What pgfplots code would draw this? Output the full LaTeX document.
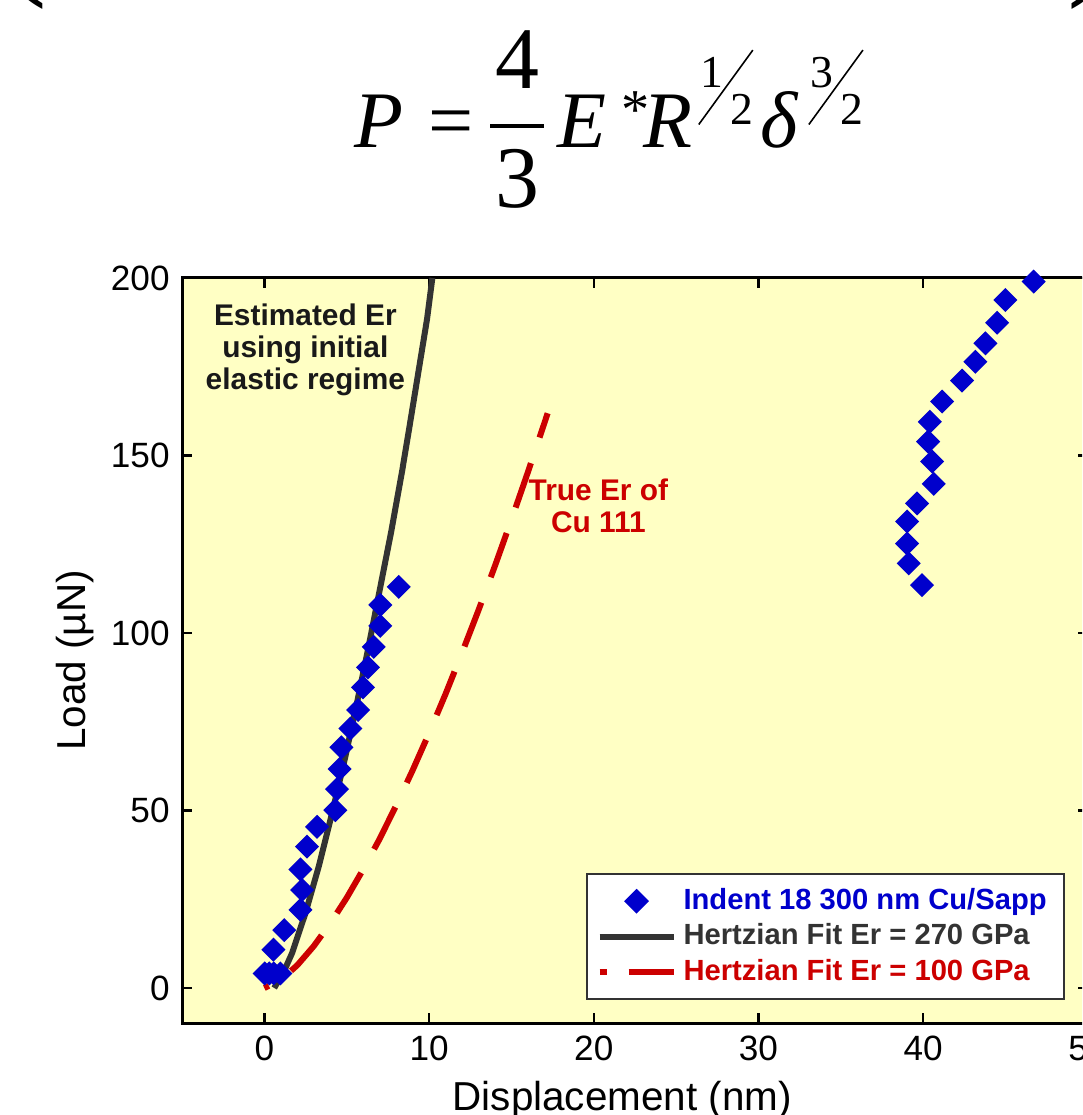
\documentclass[border=0pt]{standalone}
\usepackage{fontspec}
\usepackage{graphicx}
\setmainfont{Liberation Sans}
\newfontfamily\timesf{Liberation Serif}
\usepackage{pgfplots}
\pgfplotsset{compat=1.18}
\definecolor{bgyel}{RGB}{255,255,196}
\definecolor{myblue}{RGB}{0,0,204}
\definecolor{myred}{RGB}{204,0,0}
\definecolor{mygray}{RGB}{51,51,51}
\newcommand{\fs}{\fontsize{13}{13}\selectfont\upshape}
\newcommand{\sfr}[2]{%
 \rlap{\raisebox{2.3mm}{\rotatebox{54}{\rule{9.2mm}{0.16mm}}}}%
 \rlap{\raisebox{6.0mm}{\makebox[2.5mm][r]{\fs #1}}}%
 \hspace{3.2mm}\raisebox{2.3mm}{\fs #2}}
\newcommand{\bigf}{\timesf\fontsize{22.8}{27}\selectfont}
\newcommand{\fracf}{\timesf\fontsize{25}{30}\selectfont}
\pgfplotsset{
 legdiamond/.style={legend image code/.code={\draw[##1, mark repeat=2, mark phase=2] plot coordinates {(0mm,0mm) (3.7mm,0mm) (7.4mm,0mm)};}},
 legline/.style={legend image code/.code={\draw[##1] (0mm,0mm) -- (7.4mm,0mm);}},
 legdash/.style={legend image code/.code={\draw[##1, solid, dash pattern=on 0.7mm off 2.2mm on 4.5mm off 1mm, dash phase=0mm] (0mm,0mm) -- (7.4mm,0mm);}},
}
\begin{document}
\begin{tikzpicture}
\path[use as bounding box] (0,0) rectangle (108.2mm,111.5mm);
\clip (0,0) rectangle (108.2mm,111.5mm);
\node[anchor=base west, inner sep=0] at (35.4mm,96.7mm) {\bigf\itshape P\upshape\kern2.5mm=\kern1.2mm{\fracf$\displaystyle{\hbox{\kern0.5mm\fracf 4\kern0.5mm}\above1.1pt\hbox{\fracf 3}}$}\kern0.9mm\itshape E\rlap{\kern1.5mm\raisebox{1.9mm}{\fontsize{16}{16}\selectfont\upshape *}}\kern3.7mm R\kern0.6mm\sfr{1}{2}\kern0.8mm δ\kern1.0mm\sfr{3}{2}};
\node[anchor=base west, inner sep=0] at (0mm,113.5mm) {\timesf\fontsize{40}{40}\selectfont (};
\node[anchor=base east, inner sep=0] at (111.5mm,113.5mm) {\timesf\fontsize{40}{40}\selectfont )};
\begin{axis}[
 at={(18.2mm,9.15mm)}, anchor=south west,
 scale only axis, width=90.59mm, height=74.55mm,
 xmin=-5, xmax=50, ymin=-10, ymax=200,
 xtick={0,10,20,30,40,50}, ytick={0,50,100,150,200},
 tick align=inside, major tick length=1.0mm,
 every tick/.style={black, line width=0.25mm},
 axis line style={line width=0.3mm},
 axis background/.style={fill=bgyel},
 tick label style={font=\fontsize{10}{12}\selectfont},
 /pgf/number format/assume math mode=true,
 clip=false,
 xlabel={Displacement (nm)}, ylabel={Load (µN)},
 label style={font=\fontsize{11.5}{13}\selectfont},
 xlabel style={at={(axis description cs:0.486,-0.103)}, anchor=center},
 ylabel style={at={(axis description cs:-0.118,0.487)}, anchor=center},
 legend style={at={(axis cs:19.5,32.4)}, anchor=north west, draw=mygray, line width=0.2mm, fill=white,
   font=\bfseries\fontsize{8.3}{10}\selectfont, row sep=-0.5mm, inner xsep=1mm, inner ysep=0.7mm},
 legend cell align=left,
]
\addplot[only marks, mark=square*, mark size=0.78mm, mark options={rotate=45, fill=myblue, draw=myblue}, color=myblue, legdiamond]
 coordinates {
 (0.02,4.1) (0.30,4.1) (0.57,4.1) (0.97,4.1) (0.55,10.8) (1.21,16.3) (2.19,22.0) (2.29,27.6) (2.19,33.4)
 (2.59,39.8) (3.20,45.4) (4.31,50.1) (4.41,56.0) (4.57,61.7) (4.68,67.8) (5.22,73.1) (5.69,78.3)
 (5.99,84.7) (6.29,90.3) (6.64,96.1) (7.04,102.0) (7.04,107.9) (8.16,113.0)
 (39.93,113.5) (39.12,119.6) (39.02,125.2) (39.02,131.4) (39.63,136.5) (40.64,142.0) (40.54,148.3)
 (40.30,153.9) (40.40,159.5) (41.15,165.2) (42.36,171.1) (43.17,176.4) (43.78,181.6) (44.49,187.4)
 (44.99,193.8) (46.71,199.0)
 };
\addlegendentry{\textcolor{myblue}{Indent 18 300 nm Cu/Sapp}}
\addplot[color=mygray, line width=0.6mm, no marks, legline]
 coordinates {
 (0.6,0) (1.2,4.8) (1.68,9.8) (2.49,21.0) (3.30,34.2) (4.11,49.2) (4.92,65.2) (5.6,79.8) (6.3,95.5)
 (7.0,112) (7.7,128.5) (8.36,145.5) (8.86,159.5) (9.37,174) (9.88,188.5) (10.2,200)
 };
\addlegendentry{\textcolor{mygray}{Hertzian Fit Er = 270 GPa}}
\addplot[color=myred, line width=0.6mm, no marks, dash pattern=on 4.7mm off 2.7mm, dash phase=4.2mm, legdash]
 coordinates {
 (0,0) (1,2.27) (2,6.42) (3,11.8) (4,18.2) (5,25.4) (6,33.4) (7,42.0) (8,51.4) (9,61.3) (10,71.8)
 (11,82.8) (12,94.4) (13,106.4) (14,118.9) (15,131.9) (16,145.3) (17,159.1) (17.2,161.9)
 };
\addlegendentry{\textcolor{myred}{Hertzian Fit Er = 100 GPa}}
\node[align=center, font=\bfseries\fontsize{8.5}{9.1}\selectfont, text=black!90] at (axis cs:2.49,179.7) {Estimated Er\\using initial\\elastic regime};
\node[align=center, font=\bfseries\fontsize{8.5}{9.1}\selectfont, text=myred] at (axis cs:20.28,135.8) {True Er of\\Cu 111};
\end{axis}
\end{tikzpicture}
\end{document}
